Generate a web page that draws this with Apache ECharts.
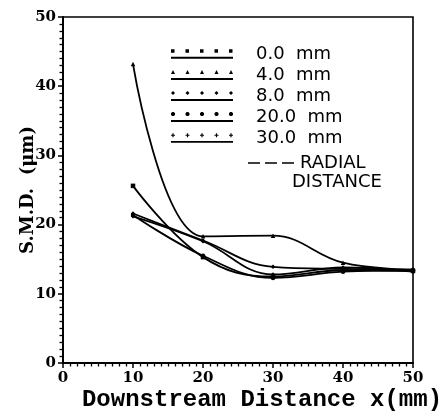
<!DOCTYPE html>
<html>
<head>
<meta charset="utf-8">
<style>
  html, body { margin: 0; padding: 0; background: #fff; }
  #chart { width: 441px; height: 412px; }
</style>
<script src="https://cdn.jsdelivr.net/npm/echarts@6/dist/echarts.min.js"></script>
</head>
<body>
<div id="chart"></div>
<script>
// ---- data ----
const xDistances = [10, 20, 30, 40, 50];
const seriesNames = ['0.0 mm', '4.0 mm', '8.0 mm', '20.0 mm', '30.0 mm'];
const smd_0mm  = [25.6, 15.3, 12.5, 13.4, 13.3];
const smd_4mm  = [43.2, 18.3, 18.4, 14.5, 13.5];
const smd_8mm  = [21.6, 17.7, 13.9, 13.6, 13.5];
const smd_20mm = [21.4, 15.5, 12.3, 13.2, 13.4];
const smd_30mm = [21.2, 17.6, 12.8, 13.8, 13.2];
const xTickLabels = [0, 10, 20, 30, 40, 50];
const yTickLabels = [0, 10, 20, 30, 40, 50];
const xAxisTitle = 'Downstream Distance x(mm)';
const yAxisTitle = 'S.M.D.  (μm)';
const radialLabel = ['RADIAL', 'DISTANCE'];

// ---- presentation ----
const allValues = [smd_0mm, smd_4mm, smd_8mm, smd_20mm, smd_30mm];
const markerKinds = ['rect', 'triangle', 'diamond', 'circle', 'pin'];

function glyph(kind, x) {
  switch (kind) {
    case 'rect': return `M${x} 0.5h3.5v3.5h-3.5z`;
    case 'triangle': return `M${x} 4L${x + 2} 0L${x + 4} 4z`;
    case 'diamond': return `M${x + 2} 0L${x + 4} 2L${x + 2} 4L${x} 2z`;
    case 'circle': return `M${x + 1.2} 0L${x + 2.8} 0L${x + 4} 1.2L${x + 4} 2.8L${x + 2.8} 4L${x + 1.2} 4L${x} 2.8L${x} 1.2z`;
    default: return `M${x + 1.4} 0.3h1.2v1.4h1.4v1.2h-1.4v1.4h-1.2v-1.4h-1.4v-1.2h1.4z`;
  }
}
function legendIcon(kind) {
  let p = '';
  for (let i = 0; i < 5; i++) p += glyph(kind, i * 14.5) + ' ';
  p += 'M0 8h62v1.8h-62z';
  return 'path://' + p;
}
const seriesSymbols = ['rect', 'triangle', 'diamond', 'circle', 'diamond'];

const series = seriesNames.map((name, i) => ({
  name: name,
  type: 'line',
  smooth: 0.4,
  data: xDistances.map((x, j) => [x, allValues[i][j]]),
  symbol: seriesSymbols[i],
  symbolSize: 4.5,
  showSymbol: true,
  itemStyle: { color: '#000' },
  lineStyle: { color: '#000', width: 1.8 },
  emphasis: { disabled: true },
  z: 3
}));

const chart = echarts.init(document.getElementById('chart'), null, { renderer: 'canvas' });
chart.setOption({
  animation: false,
  backgroundColor: '#fff',
  grid: {
    left: 63, right: 28, top: 17, bottom: 49,
    containLabel: false,
    outerBoundsMode: 'none',
    show: true, borderColor: '#000', borderWidth: 1.6, backgroundColor: 'transparent'
  },
  xAxis: {
    type: 'value',
    min: xTickLabels[0], max: xTickLabels[xTickLabels.length - 1], interval: 10,
    name: xAxisTitle,
    nameLocation: 'middle',
    nameGap: 25,
    nameMoveOverlap: false,
    nameTextStyle: {
      fontFamily: 'Liberation Mono', fontWeight: 'bold', fontSize: 24, color: '#000',
      padding: [0, 0, 0, 48]
    },
    axisLine: { show: true, onZero: false, lineStyle: { color: '#000', width: 2 } },
    axisTick: { show: true, inside: false, length: 5, lineStyle: { color: '#000', width: 1.5 } },
    minorTick: { show: true, splitNumber: 10, length: 3.5, lineStyle: { color: '#000', width: 1.3 } },
    splitLine: { show: false },
    axisLabel: {
      margin: 8, color: '#000', fontFamily: 'DejaVu Serif', fontWeight: 'bold', fontSize: 15,
      formatter: v => String(v)
    }
  },
  yAxis: {
    type: 'value',
    min: yTickLabels[0], max: yTickLabels[yTickLabels.length - 1], interval: 10,
    name: yAxisTitle,
    nameLocation: 'middle',
    nameGap: 26,
    nameMoveOverlap: false,
    nameRotate: 90,
    nameTextStyle: {
      fontFamily: 'DejaVu Serif', fontWeight: 'bold', fontSize: 18, color: '#000'
    },
    axisLine: { show: true, onZero: false, lineStyle: { color: '#000', width: 2 } },
    axisTick: { show: true, inside: false, length: 5, lineStyle: { color: '#000', width: 1.5 } },
    minorTick: { show: true, splitNumber: 10, length: 3.5, lineStyle: { color: '#000', width: 1.3 } },
    splitLine: { show: false },
    axisLabel: {
      margin: 7, color: '#000', fontFamily: 'DejaVu Serif', fontWeight: 'bold', fontSize: 15
    }
  },
  legend: {
    orient: 'vertical',
    left: 166, top: 40,
    itemWidth: 62, itemHeight: 10,
    itemGap: 3,
    selectedMode: false,
    data: seriesNames.map((n, i) => ({ name: n, icon: legendIcon(markerKinds[i]) })),
    itemStyle: { color: '#000', borderWidth: 0 },
    lineStyle: { width: 0 },
    textStyle: {
      fontFamily: 'DejaVu Sans', fontSize: 18, color: '#000', lineHeight: 17,
      padding: [0, 0, 0, 18]
    },
    formatter: n => n.replace(' ', '  ')
  },
  graphic: [
    {
      type: 'line', z: 10,
      shape: { x1: 248, y1: 163, x2: 298, y2: 163 },
      style: { stroke: '#000', lineWidth: 1.6, lineDash: [12, 5] }
    },
    {
      type: 'text', z: 10, left: 300, top: 154,
      style: { text: radialLabel[0], fill: '#000', font: '18px "DejaVu Sans"' }
    },
    {
      type: 'text', z: 10, left: 292, top: 173,
      style: { text: radialLabel[1], fill: '#000', font: '18px "DejaVu Sans"' }
    }
  ],
  series: series
});
</script>
</body>
</html>
